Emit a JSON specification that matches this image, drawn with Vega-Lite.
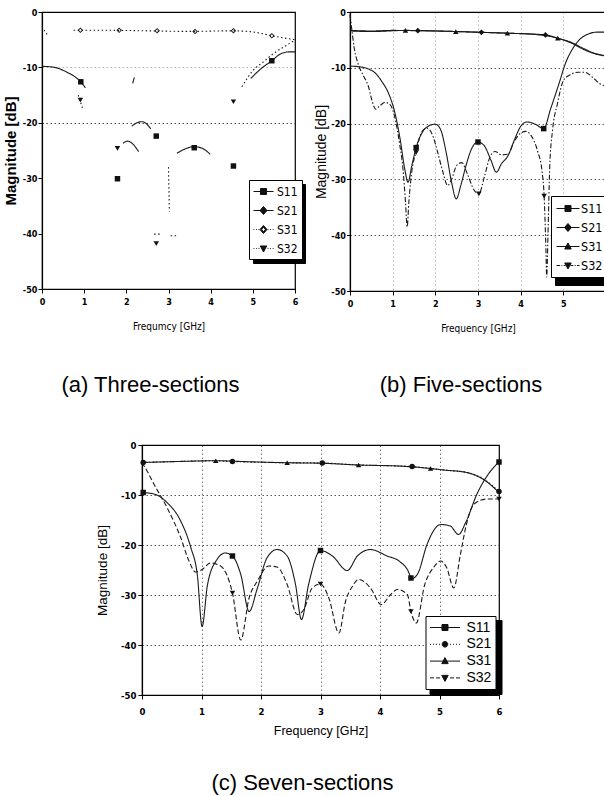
{
"$schema": "https://vega.github.io/schema/vega-lite/v6.json",
"padding": {"left": 2, "top": 7, "right": 0, "bottom": 0},
"background": "#ffffff",
"datasets": {
"lines": [
{"p":"a","s":"S11","g":1,"f":0,"d":-9.8},{"p":"a","s":"S11","g":1,"f":0.3,"d":-10},{"p":"a","s":"S11","g":1,"f":0.6,"d":-10.9},{"p":"a","s":"S11","g":1,"f":0.8,"d":-11.8},{"p":"a","s":"S11","g":1,"f":0.92,"d":-12.6},{"p":"a","s":"S11","g":1,"f":1.03,"d":-13.7},
{"p":"a","s":"S11","g":2,"f":2.13,"d":-20.6},{"p":"a","s":"S11","g":2,"f":2.25,"d":-20},{"p":"a","s":"S11","g":2,"f":2.37,"d":-19.8},{"p":"a","s":"S11","g":2,"f":2.48,"d":-20.2},{"p":"a","s":"S11","g":2,"f":2.58,"d":-21.1},
{"p":"a","s":"S11","g":3,"f":3.2,"d":-25.5},{"p":"a","s":"S11","g":3,"f":3.4,"d":-24.7},{"p":"a","s":"S11","g":3,"f":3.6,"d":-24.3},{"p":"a","s":"S11","g":3,"f":3.8,"d":-24.6},{"p":"a","s":"S11","g":3,"f":3.99,"d":-25.7},
{"p":"a","s":"S11","g":4,"f":4.95,"d":-12},{"p":"a","s":"S11","g":4,"f":5.2,"d":-10.2},{"p":"a","s":"S11","g":4,"f":5.45,"d":-8.8},{"p":"a","s":"S11","g":4,"f":5.65,"d":-7.6},{"p":"a","s":"S11","g":4,"f":5.85,"d":-7.2},{"p":"a","s":"S11","g":4,"f":6,"d":-7.2},
{"p":"a","s":"S21","g":1,"f":1.92,"d":-23.7},{"p":"a","s":"S21","g":1,"f":2.03,"d":-23.3},{"p":"a","s":"S21","g":1,"f":2.15,"d":-23.8},{"p":"a","s":"S21","g":1,"f":2.29,"d":-25.2},
{"p":"a","s":"S21","g":2,"f":2.15,"d":-12.9},{"p":"a","s":"S21","g":2,"f":2.19,"d":-11.8},
{"p":"a","s":"S31","g":1,"f":0,"d":-2.6},{"p":"a","s":"S31","g":1,"f":0.08,"d":-3.6},{"p":"a","s":"S31","g":1,"f":0.16,"d":-4.4},
{"p":"a","s":"S31","g":2,"f":0.75,"d":-3.3},{"p":"a","s":"S31","g":2,"f":1.5,"d":-3.3},{"p":"a","s":"S31","g":2,"f":2.5,"d":-3.4},{"p":"a","s":"S31","g":2,"f":3.5,"d":-3.5},{"p":"a","s":"S31","g":2,"f":4.5,"d":-3.4},{"p":"a","s":"S31","g":2,"f":5,"d":-3.6},{"p":"a","s":"S31","g":2,"f":5.45,"d":-4.3},{"p":"a","s":"S31","g":2,"f":6,"d":-5},
{"p":"a","s":"S32","g":1,"f":0.86,"d":-15},{"p":"a","s":"S32","g":1,"f":0.97,"d":-17.6},
{"p":"a","s":"S32","g":2,"f":4.74,"d":-13.5},{"p":"a","s":"S32","g":2,"f":5.01,"d":-10.5},{"p":"a","s":"S32","g":2,"f":5.25,"d":-9},{"p":"a","s":"S32","g":2,"f":5.49,"d":-7.5},{"p":"a","s":"S32","g":2,"f":5.8,"d":-6},{"p":"a","s":"S32","g":2,"f":6,"d":-5.1},
{"p":"a","s":"S32","g":3,"f":3,"d":-28},{"p":"a","s":"S32","g":3,"f":3.01,"d":-32},{"p":"a","s":"S32","g":3,"f":3.02,"d":-36},
{"p":"a","s":"S32","g":4,"f":2.66,"d":-40.1},{"p":"a","s":"S32","g":4,"f":2.8,"d":-40.1},
{"p":"a","s":"S32","g":5,"f":3.05,"d":-40.4},{"p":"a","s":"S32","g":5,"f":3.2,"d":-40.4},

{"p":"b","s":"S11","f":0,"d":-9.7},{"p":"b","s":"S11","f":0.2,"d":-9.8},{"p":"b","s":"S11","f":0.43,"d":-10.2},{"p":"b","s":"S11","f":0.6,"d":-11},{"p":"b","s":"S11","f":0.75,"d":-12.5},{"p":"b","s":"S11","f":0.9,"d":-14.5},{"p":"b","s":"S11","f":1.05,"d":-18},{"p":"b","s":"S11","f":1.18,"d":-23},{"p":"b","s":"S11","f":1.28,"d":-28},{"p":"b","s":"S11","f":1.36,"d":-30.5},{"p":"b","s":"S11","f":1.45,"d":-27.5},{"p":"b","s":"S11","f":1.55,"d":-24.3},{"p":"b","s":"S11","f":1.7,"d":-21.5},{"p":"b","s":"S11","f":1.85,"d":-20.4},{"p":"b","s":"S11","f":2,"d":-20.1},{"p":"b","s":"S11","f":2.12,"d":-21},{"p":"b","s":"S11","f":2.25,"d":-25},{"p":"b","s":"S11","f":2.38,"d":-30.5},{"p":"b","s":"S11","f":2.49,"d":-33.5},{"p":"b","s":"S11","f":2.6,"d":-31},{"p":"b","s":"S11","f":2.72,"d":-27.5},{"p":"b","s":"S11","f":2.85,"d":-24.5},{"p":"b","s":"S11","f":3,"d":-23.3},{"p":"b","s":"S11","f":3.15,"d":-24},{"p":"b","s":"S11","f":3.3,"d":-26.5},{"p":"b","s":"S11","f":3.43,"d":-28.7},{"p":"b","s":"S11","f":3.55,"d":-27.2},{"p":"b","s":"S11","f":3.7,"d":-25.8},{"p":"b","s":"S11","f":3.85,"d":-23},{"p":"b","s":"S11","f":4,"d":-20.5},{"p":"b","s":"S11","f":4.15,"d":-19.7},{"p":"b","s":"S11","f":4.34,"d":-20.1},{"p":"b","s":"S11","f":4.54,"d":-20.9},{"p":"b","s":"S11","f":4.7,"d":-17.4},{"p":"b","s":"S11","f":4.9,"d":-12.8},{"p":"b","s":"S11","f":5.05,"d":-9.2},{"p":"b","s":"S11","f":5.25,"d":-6.2},{"p":"b","s":"S11","f":5.49,"d":-4.3},{"p":"b","s":"S11","f":5.8,"d":-3.6},{"p":"b","s":"S11","f":6,"d":-3.6},
{"p":"b","s":"S21","f":0,"d":-3.3},{"p":"b","s":"S21","f":0.5,"d":-3.4},{"p":"b","s":"S21","f":1,"d":-3.3},{"p":"b","s":"S21","f":1.59,"d":-3.35},{"p":"b","s":"S21","f":2.5,"d":-3.5},{"p":"b","s":"S21","f":3.08,"d":-3.65},{"p":"b","s":"S21","f":3.7,"d":-3.8},{"p":"b","s":"S21","f":4.58,"d":-4.1},{"p":"b","s":"S21","f":4.87,"d":-4.7},{"p":"b","s":"S21","f":5.17,"d":-5.4},{"p":"b","s":"S21","f":5.49,"d":-6.6},{"p":"b","s":"S21","f":5.77,"d":-7.5},{"p":"b","s":"S21","f":6,"d":-7.8},
{"p":"b","s":"S31","f":0,"d":-3.4},{"p":"b","s":"S31","f":0.5,"d":-3.5},{"p":"b","s":"S31","f":1.3,"d":-3.3},{"p":"b","s":"S31","f":2.48,"d":-3.5},{"p":"b","s":"S31","f":3.69,"d":-3.8},{"p":"b","s":"S31","f":4.3,"d":-4},{"p":"b","s":"S31","f":4.87,"d":-4.7},{"p":"b","s":"S31","f":5.2,"d":-5.6},{"p":"b","s":"S31","f":5.5,"d":-6.8},{"p":"b","s":"S31","f":5.8,"d":-7.6},{"p":"b","s":"S31","f":6,"d":-7.9},
{"p":"b","s":"S32","f":0,"d":-0.5},{"p":"b","s":"S32","f":0.04,"d":-3},{"p":"b","s":"S32","f":0.1,"d":-6.5},{"p":"b","s":"S32","f":0.2,"d":-9.5},{"p":"b","s":"S32","f":0.32,"d":-11.5},{"p":"b","s":"S32","f":0.43,"d":-13.3},{"p":"b","s":"S32","f":0.52,"d":-16},{"p":"b","s":"S32","f":0.6,"d":-17.4},{"p":"b","s":"S32","f":0.7,"d":-16.8},{"p":"b","s":"S32","f":0.82,"d":-16.2},{"p":"b","s":"S32","f":0.94,"d":-16.6},{"p":"b","s":"S32","f":1.06,"d":-19.2},{"p":"b","s":"S32","f":1.16,"d":-23.5},{"p":"b","s":"S32","f":1.24,"d":-28},{"p":"b","s":"S32","f":1.3,"d":-34},{"p":"b","s":"S32","f":1.34,"d":-38.5},{"p":"b","s":"S32","f":1.38,"d":-34},{"p":"b","s":"S32","f":1.45,"d":-28.5},{"p":"b","s":"S32","f":1.55,"d":-25},{"p":"b","s":"S32","f":1.68,"d":-21.5},{"p":"b","s":"S32","f":1.8,"d":-20.8},{"p":"b","s":"S32","f":1.92,"d":-21.8},{"p":"b","s":"S32","f":2.05,"d":-25},{"p":"b","s":"S32","f":2.17,"d":-28.5},{"p":"b","s":"S32","f":2.29,"d":-31.1},{"p":"b","s":"S32","f":2.38,"d":-30},{"p":"b","s":"S32","f":2.5,"d":-27.5},{"p":"b","s":"S32","f":2.62,"d":-27},{"p":"b","s":"S32","f":2.75,"d":-29},{"p":"b","s":"S32","f":2.9,"d":-31.8},{"p":"b","s":"S32","f":3.02,"d":-32.6},{"p":"b","s":"S32","f":3.15,"d":-29.5},{"p":"b","s":"S32","f":3.28,"d":-26},{"p":"b","s":"S32","f":3.4,"d":-25},{"p":"b","s":"S32","f":3.55,"d":-25.6},{"p":"b","s":"S32","f":3.7,"d":-25.5},{"p":"b","s":"S32","f":3.85,"d":-23.2},{"p":"b","s":"S32","f":4,"d":-21.7},{"p":"b","s":"S32","f":4.12,"d":-21.4},{"p":"b","s":"S32","f":4.28,"d":-22.6},{"p":"b","s":"S32","f":4.4,"d":-25},{"p":"b","s":"S32","f":4.5,"d":-28.5},{"p":"b","s":"S32","f":4.55,"d":-33},{"p":"b","s":"S32","f":4.59,"d":-42},{"p":"b","s":"S32","f":4.61,"d":-47.5},{"p":"b","s":"S32","f":4.64,"d":-40},{"p":"b","s":"S32","f":4.68,"d":-28},{"p":"b","s":"S32","f":4.75,"d":-21},{"p":"b","s":"S32","f":4.86,"d":-16.5},{"p":"b","s":"S32","f":5,"d":-12.3},{"p":"b","s":"S32","f":5.15,"d":-11.3},{"p":"b","s":"S32","f":5.35,"d":-10.8},{"p":"b","s":"S32","f":5.5,"d":-10.8},{"p":"b","s":"S32","f":5.7,"d":-11.8},{"p":"b","s":"S32","f":5.85,"d":-12.8},{"p":"b","s":"S32","f":6,"d":-13.3},

{"p":"c","s":"S11","f":0,"d":-9.5},{"p":"c","s":"S11","f":0.2,"d":-9.8},{"p":"c","s":"S11","f":0.42,"d":-11.5},{"p":"c","s":"S11","f":0.65,"d":-15.2},{"p":"c","s":"S11","f":0.82,"d":-20.5},{"p":"c","s":"S11","f":0.93,"d":-26},{"p":"c","s":"S11","f":1.01,"d":-36.3},{"p":"c","s":"S11","f":1.1,"d":-28},{"p":"c","s":"S11","f":1.26,"d":-22.9},{"p":"c","s":"S11","f":1.4,"d":-21.6},{"p":"c","s":"S11","f":1.52,"d":-22.2},{"p":"c","s":"S11","f":1.66,"d":-25.9},{"p":"c","s":"S11","f":1.8,"d":-33.3},{"p":"c","s":"S11","f":1.94,"d":-28.6},{"p":"c","s":"S11","f":2.1,"d":-22.6},{"p":"c","s":"S11","f":2.27,"d":-20.9},{"p":"c","s":"S11","f":2.44,"d":-22.2},{"p":"c","s":"S11","f":2.58,"d":-27.9},{"p":"c","s":"S11","f":2.68,"d":-34.9},{"p":"c","s":"S11","f":2.8,"d":-27.9},{"p":"c","s":"S11","f":3,"d":-21.1},{"p":"c","s":"S11","f":3.2,"d":-22.2},{"p":"c","s":"S11","f":3.45,"d":-25.1},{"p":"c","s":"S11","f":3.62,"d":-22.2},{"p":"c","s":"S11","f":3.84,"d":-20.9},{"p":"c","s":"S11","f":4.12,"d":-22.2},{"p":"c","s":"S11","f":4.32,"d":-23.2},{"p":"c","s":"S11","f":4.46,"d":-24.9},{"p":"c","s":"S11","f":4.54,"d":-26.7},{"p":"c","s":"S11","f":4.64,"d":-25.6},{"p":"c","s":"S11","f":4.79,"d":-19.9},{"p":"c","s":"S11","f":5.02,"d":-15.9},{"p":"c","s":"S11","f":5.18,"d":-16.2},{"p":"c","s":"S11","f":5.32,"d":-17.9},{"p":"c","s":"S11","f":5.44,"d":-15.5},{"p":"c","s":"S11","f":5.63,"d":-9.8},{"p":"c","s":"S11","f":5.86,"d":-5.2},{"p":"c","s":"S11","f":6,"d":-3.4},
{"p":"c","s":"S21","f":0,"d":-3.5},{"p":"c","s":"S21","f":0.6,"d":-3.3},{"p":"c","s":"S21","f":1.24,"d":-3.15},{"p":"c","s":"S21","f":1.52,"d":-3.3},{"p":"c","s":"S21","f":2.44,"d":-3.55},{"p":"c","s":"S21","f":3.03,"d":-3.6},{"p":"c","s":"S21","f":3.64,"d":-4},{"p":"c","s":"S21","f":4.54,"d":-4.3},{"p":"c","s":"S21","f":4.85,"d":-4.7},{"p":"c","s":"S21","f":5.07,"d":-5},{"p":"c","s":"S21","f":5.46,"d":-5.5},{"p":"c","s":"S21","f":5.74,"d":-6.8},{"p":"c","s":"S21","f":6,"d":-9.3},
{"p":"c","s":"S31","f":0,"d":-3.5},{"p":"c","s":"S31","f":0.6,"d":-3.3},{"p":"c","s":"S31","f":1.24,"d":-3.15},{"p":"c","s":"S31","f":1.8,"d":-3.35},{"p":"c","s":"S31","f":2.44,"d":-3.55},{"p":"c","s":"S31","f":3.03,"d":-3.65},{"p":"c","s":"S31","f":3.64,"d":-4},{"p":"c","s":"S31","f":4.3,"d":-4.2},{"p":"c","s":"S31","f":4.85,"d":-4.7},{"p":"c","s":"S31","f":5.07,"d":-5},{"p":"c","s":"S31","f":5.46,"d":-5.5},{"p":"c","s":"S31","f":5.74,"d":-6.9},{"p":"c","s":"S31","f":6,"d":-9.5},
{"p":"c","s":"S32","f":0,"d":-3.5},{"p":"c","s":"S32","f":0.1,"d":-5.5},{"p":"c","s":"S32","f":0.2,"d":-7.8},{"p":"c","s":"S32","f":0.42,"d":-12.5},{"p":"c","s":"S32","f":0.65,"d":-18.5},{"p":"c","s":"S32","f":0.79,"d":-23.2},{"p":"c","s":"S32","f":0.9,"d":-25.4},{"p":"c","s":"S32","f":1.01,"d":-24.9},{"p":"c","s":"S32","f":1.15,"d":-23.6},{"p":"c","s":"S32","f":1.32,"d":-24.2},{"p":"c","s":"S32","f":1.52,"d":-29.6},{"p":"c","s":"S32","f":1.66,"d":-39},{"p":"c","s":"S32","f":1.8,"d":-30.6},{"p":"c","s":"S32","f":1.94,"d":-27.2},{"p":"c","s":"S32","f":2.13,"d":-24.2},{"p":"c","s":"S32","f":2.27,"d":-24.4},{"p":"c","s":"S32","f":2.44,"d":-27.9},{"p":"c","s":"S32","f":2.61,"d":-33.9},{"p":"c","s":"S32","f":2.72,"d":-32.9},{"p":"c","s":"S32","f":2.86,"d":-28.6},{"p":"c","s":"S32","f":3,"d":-27.8},{"p":"c","s":"S32","f":3.14,"d":-30.6},{"p":"c","s":"S32","f":3.31,"d":-37.6},{"p":"c","s":"S32","f":3.42,"d":-31.3},{"p":"c","s":"S32","f":3.54,"d":-28.2},{"p":"c","s":"S32","f":3.64,"d":-26.9},{"p":"c","s":"S32","f":3.84,"d":-28.6},{"p":"c","s":"S32","f":4.02,"d":-31.9},{"p":"c","s":"S32","f":4.18,"d":-29.9},{"p":"c","s":"S32","f":4.29,"d":-28.9},{"p":"c","s":"S32","f":4.46,"d":-29.9},{"p":"c","s":"S32","f":4.52,"d":-33.3},{"p":"c","s":"S32","f":4.61,"d":-35.6},{"p":"c","s":"S32","f":4.75,"d":-28},{"p":"c","s":"S32","f":4.9,"d":-24.5},{"p":"c","s":"S32","f":5.02,"d":-23.2},{"p":"c","s":"S32","f":5.12,"d":-24.5},{"p":"c","s":"S32","f":5.24,"d":-28.6},{"p":"c","s":"S32","f":5.35,"d":-22},{"p":"c","s":"S32","f":5.45,"d":-16},{"p":"c","s":"S32","f":5.58,"d":-11.8},{"p":"c","s":"S32","f":5.8,"d":-10.8},{"p":"c","s":"S32","f":6,"d":-10.8}
],
"marks": [
{"p":"a","s":"S11","f":0.92,"d":-12.6},{"p":"a","s":"S11","f":1.79,"d":-30.1},{"p":"a","s":"S11","f":2.71,"d":-22.4},{"p":"a","s":"S11","f":3.61,"d":-24.5},{"p":"a","s":"S11","f":4.54,"d":-27.8},{"p":"a","s":"S11","f":5.45,"d":-8.8},
{"p":"a","s":"S31","f":0.91,"d":-3.3},{"p":"a","s":"S31","f":1.83,"d":-3.3},{"p":"a","s":"S31","f":2.73,"d":-3.4},{"p":"a","s":"S31","f":3.63,"d":-3.5},{"p":"a","s":"S31","f":4.54,"d":-3.4},{"p":"a","s":"S31","f":5.45,"d":-4.3},
{"p":"a","s":"S32","f":0.91,"d":-15.9},{"p":"a","s":"S32","f":1.79,"d":-24.6},{"p":"a","s":"S32","f":2.71,"d":-41.8},{"p":"a","s":"S32","f":4.54,"d":-16.2},
{"p":"b","s":"S11","f":1.55,"d":-24.3},{"p":"b","s":"S11","f":3,"d":-23.3},{"p":"b","s":"S11","f":4.54,"d":-20.9},
{"p":"b","s":"S21","f":1.59,"d":-3.35},{"p":"b","s":"S21","f":3.08,"d":-3.65},{"p":"b","s":"S21","f":4.58,"d":-4.1},
{"p":"b","s":"S31","f":1.3,"d":-3.3},{"p":"b","s":"S31","f":2.48,"d":-3.5},{"p":"b","s":"S31","f":3.69,"d":-3.8},{"p":"b","s":"S31","f":4.87,"d":-4.7},
{"p":"b","s":"S32","f":1.55,"d":-25.2},{"p":"b","s":"S32","f":3.02,"d":-32.6},{"p":"b","s":"S32","f":4.55,"d":-33},
{"p":"c","s":"S11","f":0.02,"d":-9.5},{"p":"c","s":"S11","f":1.52,"d":-22.2},{"p":"c","s":"S11","f":3,"d":-21.1},{"p":"c","s":"S11","f":4.52,"d":-26.6},{"p":"c","s":"S11","f":6,"d":-3.4},
{"p":"c","s":"S21","f":0.02,"d":-3.5},{"p":"c","s":"S21","f":1.52,"d":-3.3},{"p":"c","s":"S21","f":3.03,"d":-3.6},{"p":"c","s":"S21","f":4.54,"d":-4.3},{"p":"c","s":"S21","f":6,"d":-9.3},
{"p":"c","s":"S31","f":1.24,"d":-3.15},{"p":"c","s":"S31","f":2.44,"d":-3.55},{"p":"c","s":"S31","f":3.64,"d":-4},{"p":"c","s":"S31","f":4.85,"d":-4.7},
{"p":"c","s":"S32","f":1.52,"d":-29.6},{"p":"c","s":"S32","f":3,"d":-27.8},{"p":"c","s":"S32","f":4.52,"d":-33.3},{"p":"c","s":"S32","f":6,"d":-10.8}
]
},
"vconcat": [
{
"hconcat": [
{
"width": 253, "height": 277,
"title": {"text": "(a)  Three-sections", "orient": "bottom", "anchor": "middle", "frame": "group", "dx": -18, "offset": 44, "font": "Liberation Sans", "fontSize": 22, "fontWeight": "normal", "color": "#000"},
"layer": [
{"data": {"name": "lines"}, "transform": [{"filter": "datum.p === 'a'"}],
"mark": {"type": "line", "interpolate": "monotone", "strokeWidth": 1.1, "color": "#1a1a1a"},
"encoding": {
"x": {"field": "f", "type": "quantitative", "scale": {"domain": [0, 6], "nice": false, "zero": false},
"axis": {"values": [0,0.5,1,1.5,2,2.5,3,3.5,4,4.5,5,5.5,6], "labelExpr": "datum.value % 1 == 0 ? toString(datum.value) : ''", "tickSize": {"condition": {"test": "datum.value % 1 == 0", "value": 4}, "value": 2.5}, "grid": false, "labelPadding": 4, "title": "Frequmcy [GHz]", "titleFont": "Liberation Sans Narrow, DejaVu Sans Condensed, Liberation Sans, sans-serif", "titleFontSize": 10, "titlePadding": 15}},
"y": {"field": "d", "type": "quantitative", "scale": {"domain": [-50, 0], "nice": false, "zero": false},
"axis": {"values": [0,-5,-10,-15,-20,-25,-30,-35,-40,-45,-50], "labelExpr": "datum.value % 10 == 0 ? toString(datum.value) : ''", "tickSize": {"condition": {"test": "datum.value % 10 == 0", "value": 4}, "value": 2.5}, "grid": true, "gridOpacity": {"condition": [{"test": "datum.value == -20", "value": 0.9}, {"test": "datum.value == -10", "value": 0.4}], "value": 0}, "labelPadding": 1, "title": "Magnitude [dB]", "titleFont": "Liberation Sans", "titleFontWeight": "bold", "titleFontSize": 15, "titlePadding": 4}},
"detail": {"field": "g"},
"strokeDash": {"field": "s", "type": "nominal", "scale": {"domain": ["S32","S31","S21","S11"], "range": [[1.5,2.5],[1.5,2.5],[1,0],[1,0]]},
"legend": {"orient": "none", "legendX": 211, "legendY": 172, "title": null, "padding": 4, "fillColor": "#000", "strokeColor": "#000", "symbolSize": 196, "symbolStrokeColor": "#000", "labelColor": "#000", "labelExpr": "''", "labelOffset": 28, "labelFont": "Liberation Sans Narrow, DejaVu Sans Condensed, Liberation Sans, sans-serif", "labelFontSize": 12, "rowPadding": 5, "zindex": 1}}
}},
{"data": {"name": "marks"}, "transform": [{"filter": "datum.p === 'a' && datum.s === 'S11'"}],
"mark": {"type": "point", "shape": "square", "filled": true, "size": 30, "color": "#111", "opacity": 1},
"encoding": {"x": {"field": "f", "type": "quantitative"}, "y": {"field": "d", "type": "quantitative"}}},
{"data": {"name": "marks"}, "transform": [{"filter": "datum.p === 'a' && datum.s === 'S31'"}],
"mark": {"type": "point", "shape": "M0,-1L1,0L0,1L-1,0ZM0,-0.55L-0.55,0L0,0.55L0.55,0Z", "filled": true, "size": 30, "color": "#111", "opacity": 1},
"encoding": {"x": {"field": "f", "type": "quantitative"}, "y": {"field": "d", "type": "quantitative"}}},
{"data": {"name": "marks"}, "transform": [{"filter": "datum.p === 'a' && datum.s === 'S32'"}],
"mark": {"type": "point", "shape": "triangle-down", "filled": true, "size": 30, "color": "#111", "opacity": 1},
"encoding": {"x": {"field": "f", "type": "quantitative"}, "y": {"field": "d", "type": "quantitative"}}},
{"data": {"name": "marks"}, "transform": [{"filter": "false"}],
"mark": {"type": "point", "filled": false, "fill": "#111", "stroke": "#111", "strokeWidth": 1},
"encoding": {"shape": {"field": "s", "type": "nominal", "scale": {"domain": ["S11","S21","S31","S32"], "range": [
"M-1,0H1.86M0,-0.43H0.86V0.43H0Z",
"M-1,0H1.86M0.43,-0.57L0.93,0L0.43,0.57L-0.07,0Z",
"M-1,0H-0.88M-0.64,0H-0.52M-0.28,0H-0.16M1.02,0H1.14M1.38,0H1.5M1.74,0H1.86M0.43,-0.57L0.93,0L0.43,0.57L-0.07,0ZM0.43,-0.3L0.16,0L0.43,0.3L0.7,0Z",
"M-1,0H-0.88M-0.64,0H-0.52M-0.28,0H-0.16M1.02,0H1.14M1.38,0H1.5M1.74,0H1.86M-0.03,-0.36L0.89,-0.36L0.43,0.5Z"]},
"legend": {"orient": "none", "legendX": 207, "legendY": 168, "title": null, "padding": 4, "fillColor": "#fff", "strokeColor": "#000", "symbolSize": 196, "symbolStrokeWidth": 1, "symbolOpacity": 1, "labelColor": "#000", "labelOffset": 9, "labelFont": "Liberation Sans Narrow, DejaVu Sans Condensed, Liberation Sans, sans-serif", "labelFontSize": 12, "rowPadding": 5, "zindex": 2}}}}
]
},
{
"width": 256, "height": 279,
"title": {"text": "(b)  Five-sections", "orient": "bottom", "anchor": "middle", "frame": "group", "dx": -17, "offset": 42, "font": "Liberation Sans", "fontSize": 22, "fontWeight": "normal", "color": "#000"},
"layer": [
{"data": {"name": "lines"}, "transform": [{"filter": "datum.p === 'b'"}],
"mark": {"type": "line", "interpolate": "monotone", "strokeWidth": 1.1, "color": "#1a1a1a"},
"encoding": {
"x": {"field": "f", "type": "quantitative", "scale": {"domain": [0, 6], "nice": false, "zero": false},
"axis": {"values": [0,0.5,1,1.5,2,2.5,3,3.5,4,4.5,5,5.5,6], "labelExpr": "datum.value % 1 == 0 ? toString(datum.value) : ''", "tickSize": {"condition": {"test": "datum.value % 1 == 0", "value": 4}, "value": 2.5}, "grid": true, "gridOpacity": {"condition": {"test": "datum.value % 1 == 0 && datum.value > 0 && datum.value < 6", "value": 0.35}, "value": 0}, "labelPadding": 4, "title": "Frequency [GHz]", "titleFont": "Liberation Sans Narrow, DejaVu Sans Condensed, Liberation Sans, sans-serif", "titleFontSize": 10, "titlePadding": 15}},
"y": {"field": "d", "type": "quantitative", "scale": {"domain": [-50, 0], "nice": false, "zero": false},
"axis": {"values": [0,-2.5,-5,-7.5,-10,-12.5,-15,-17.5,-20,-22.5,-25,-27.5,-30,-32.5,-35,-37.5,-40,-42.5,-45,-47.5,-50], "labelExpr": "datum.value % 5 == 0 ? toString(datum.value) : ''", "tickSize": {"condition": {"test": "datum.value % 5 == 0", "value": 3.5}, "value": 2}, "grid": true, "gridOpacity": {"condition": {"test": "datum.value % 5 == 0 && datum.value < 0 && datum.value > -50", "value": 0.8}, "value": 0}, "labelPadding": 1, "title": "Magnitude [dB]", "titleFont": "Liberation Sans", "titleFontSize": 14, "titlePadding": 2}},
"detail": {"field": "g"},
"strokeDash": {"field": "s", "type": "nominal", "scale": {"domain": ["S32","S31","S21","S11"], "range": [[5,2,1.5,2],[1,0],[1,0],[1,0]]},
"legend": {"orient": "none", "legendX": 205, "legendY": 188, "title": null, "padding": 5, "fillColor": "#000", "strokeColor": "#000", "symbolSize": 196, "symbolStrokeColor": "#000", "labelColor": "#000", "labelExpr": "''", "labelOffset": 30, "labelFont": "Liberation Sans Narrow, DejaVu Sans Condensed, Liberation Sans, sans-serif", "labelFontSize": 12.5, "rowPadding": 5, "zindex": 1}}
}},
{"data": {"name": "marks"}, "transform": [{"filter": "datum.p === 'b' && datum.s === 'S11'"}],
"mark": {"type": "point", "shape": "square", "filled": true, "size": 30, "color": "#111", "opacity": 1},
"encoding": {"x": {"field": "f", "type": "quantitative"}, "y": {"field": "d", "type": "quantitative"}}},
{"data": {"name": "marks"}, "transform": [{"filter": "datum.p === 'b' && datum.s === 'S21'"}],
"mark": {"type": "point", "shape": "diamond", "filled": true, "size": 34, "color": "#111", "opacity": 1},
"encoding": {"x": {"field": "f", "type": "quantitative"}, "y": {"field": "d", "type": "quantitative"}}},
{"data": {"name": "marks"}, "transform": [{"filter": "datum.p === 'b' && datum.s === 'S31'"}],
"mark": {"type": "point", "shape": "triangle-up", "filled": true, "size": 30, "color": "#111", "opacity": 1},
"encoding": {"x": {"field": "f", "type": "quantitative"}, "y": {"field": "d", "type": "quantitative"}}},
{"data": {"name": "marks"}, "transform": [{"filter": "datum.p === 'b' && datum.s === 'S32'"}],
"mark": {"type": "point", "shape": "triangle-down", "filled": true, "size": 30, "color": "#111", "opacity": 1},
"encoding": {"x": {"field": "f", "type": "quantitative"}, "y": {"field": "d", "type": "quantitative"}}},
{"data": {"name": "marks"}, "transform": [{"filter": "false"}],
"mark": {"type": "point", "filled": false, "fill": "#111", "stroke": "#111", "strokeWidth": 1},
"encoding": {"shape": {"field": "s", "type": "nominal", "scale": {"domain": ["S11","S21","S31","S32"], "range": [
"M-1,0H2.29M0.21,-0.43H1.07V0.43H0.21Z",
"M-1,0H2.29M0.64,-0.57L1.14,0L0.64,0.57L0.14,0Z",
"M-1,0H2.29M0.64,-0.5L1.1,0.36L0.18,0.36Z",
"M-1,0H-0.5M-0.3,0H-0.16M0.04,0H0.29M1,0H1.4M1.6,0H1.74M1.94,0H2.29M0.18,-0.36L1.1,-0.36L0.64,0.5Z"]},
"legend": {"orient": "none", "legendX": 201, "legendY": 184, "title": null, "padding": 5, "fillColor": "#fff", "strokeColor": "#000", "symbolSize": 196, "symbolStrokeWidth": 1, "symbolOpacity": 1, "labelColor": "#000", "labelOffset": 10, "labelFont": "Liberation Sans Narrow, DejaVu Sans Condensed, Liberation Sans, sans-serif", "labelFontSize": 12.5, "rowPadding": 5, "zindex": 2}}}}
]
}
],
"spacing": 55, "bounds": "flush",
"resolve": {"scale": {"shape": "independent", "strokeDash": "independent"}}
},
{
"hconcat": [
{"width": 99.5, "height": 20, "data": {"values": []}, "mark": {"type": "point"}, "view": {"stroke": null}},
{
"width": 357, "height": 250,
"title": {"text": "(c)  Seven-sections", "orient": "bottom", "anchor": "middle", "frame": "group", "dx": -18, "offset": 36, "font": "Liberation Sans", "fontSize": 22, "fontWeight": "normal", "color": "#000"},
"layer": [
{"data": {"name": "lines"}, "transform": [{"filter": "datum.p === 'c'"}],
"mark": {"type": "line", "interpolate": "monotone", "strokeWidth": 1.1, "color": "#1a1a1a"},
"encoding": {
"x": {"field": "f", "type": "quantitative", "scale": {"domain": [0, 6], "nice": false, "zero": false},
"axis": {"values": [0,0.5,1,1.5,2,2.5,3,3.5,4,4.5,5,5.5,6], "labelExpr": "datum.value % 1 == 0 ? toString(datum.value) : ''", "tickSize": {"condition": {"test": "datum.value % 1 == 0", "value": 4}, "value": 2.5}, "grid": true, "gridOpacity": {"condition": {"test": "datum.value % 1 == 0 && datum.value > 0 && datum.value < 6", "value": 0.7}, "value": 0}, "labelPadding": 7, "labelFontSize": 9.5, "title": "Frequency [GHz]", "titleFont": "Liberation Sans", "titleFontSize": 12.5, "titlePadding": 9}},
"y": {"field": "d", "type": "quantitative", "scale": {"domain": [-50, 0], "nice": false, "zero": false},
"axis": {"values": [0,-2.5,-5,-7.5,-10,-12.5,-15,-17.5,-20,-22.5,-25,-27.5,-30,-32.5,-35,-37.5,-40,-42.5,-45,-47.5,-50], "labelExpr": "datum.value % 5 == 0 ? toString(datum.value) : ''", "tickSize": {"condition": {"test": "datum.value % 5 == 0", "value": 4}, "value": 2}, "grid": true, "gridOpacity": {"condition": {"test": "datum.value % 5 == 0 && datum.value < 0 && datum.value > -50", "value": 0.85}, "value": 0}, "labelPadding": 2, "labelFontSize": 9.5, "title": "Magnitude [dB]", "titleFont": "Liberation Sans", "titleFontSize": 13.5, "titlePadding": 11}},
"detail": {"field": "g"},
"strokeDash": {"field": "s", "type": "nominal", "scale": {"domain": ["S32","S31","S21","S11"], "range": [[5,2.5],[1,0],[1.5,2],[1,0]]},
"legend": {"orient": "none", "legendX": 287.5, "legendY": 175, "title": null, "padding": 4, "fillColor": "#000", "strokeColor": "#000", "symbolSize": 196, "symbolStrokeColor": "#000", "labelColor": "#000", "labelExpr": "''", "labelOffset": 48, "labelFont": "Liberation Sans", "labelFontSize": 14, "rowPadding": 1.8, "zindex": 1}}
}},
{"data": {"name": "marks"}, "transform": [{"filter": "datum.p === 'c' && datum.s === 'S11'"}],
"mark": {"type": "point", "shape": "square", "filled": true, "size": 30, "color": "#111", "opacity": 1},
"encoding": {"x": {"field": "f", "type": "quantitative"}, "y": {"field": "d", "type": "quantitative"}}},
{"data": {"name": "marks"}, "transform": [{"filter": "datum.p === 'c' && datum.s === 'S21'"}],
"mark": {"type": "point", "shape": "circle", "filled": true, "size": 30, "color": "#111", "opacity": 1},
"encoding": {"x": {"field": "f", "type": "quantitative"}, "y": {"field": "d", "type": "quantitative"}}},
{"data": {"name": "marks"}, "transform": [{"filter": "datum.p === 'c' && datum.s === 'S31'"}],
"mark": {"type": "point", "shape": "triangle-up", "filled": true, "size": 30, "color": "#111", "opacity": 1},
"encoding": {"x": {"field": "f", "type": "quantitative"}, "y": {"field": "d", "type": "quantitative"}}},
{"data": {"name": "marks"}, "transform": [{"filter": "datum.p === 'c' && datum.s === 'S32'"}],
"mark": {"type": "point", "shape": "triangle-down", "filled": true, "size": 30, "color": "#111", "opacity": 1},
"encoding": {"x": {"field": "f", "type": "quantitative"}, "y": {"field": "d", "type": "quantitative"}}},
{"data": {"name": "marks"}, "transform": [{"filter": "false"}],
"mark": {"type": "point", "filled": false, "fill": "#111", "stroke": "#111", "strokeWidth": 1},
"encoding": {"shape": {"field": "s", "type": "nominal", "scale": {"domain": ["S11","S21","S31","S32"], "range": [
"M-1,0H3.29M0.71,-0.43H1.57V0.43H0.71Z",
"M-1,0H-0.86M-0.57,0H-0.43M-0.14,0H0M0.29,0H0.43M1.86,0H2M2.29,0H2.43M2.71,0H2.86M3.14,0H3.29M0.74,0A0.4,0.4,0,1,0,1.54,0A0.4,0.4,0,1,0,0.74,0Z",
"M-1,0H3.29M1.14,-0.5L1.6,0.36L0.68,0.36Z",
"M-1,0H-0.43M-0.14,0H0.43M1.86,0H2.43M2.71,0H3.29M0.68,-0.36L1.6,-0.36L1.14,0.5Z"]},
"legend": {"orient": "none", "legendX": 283.5, "legendY": 171, "title": null, "padding": 4, "fillColor": "#fff", "strokeColor": "#000", "symbolSize": 196, "symbolStrokeWidth": 1, "symbolOpacity": 1, "labelColor": "#000", "labelOffset": 22, "labelFont": "Liberation Sans", "labelFontSize": 14, "rowPadding": 1.8, "zindex": 2}}}}
]
}
],
"spacing": 0, "bounds": "flush",
"resolve": {"scale": {"shape": "independent", "strokeDash": "independent"}}
}
],
"spacing": 42,
"resolve": {"scale": {"shape": "independent", "strokeDash": "independent"}},
"config": {
"view": {"stroke": "#000", "strokeWidth": 1.2},
"axis": {"domainColor": "#000", "domainWidth": 1.2, "tickColor": "#000", "labelColor": "#000", "titleColor": "#000", "gridColor": "#222", "gridDash": [1.5, 2.5], "gridWidth": 0.9, "labelFont": "Liberation Sans Narrow, DejaVu Sans Condensed, Liberation Sans, sans-serif", "labelFontWeight": "bold", "labelFontSize": 9, "labelFlush": false, "labelOverlap": false, "labelBound": false, "titleFontWeight": "normal"},
"legend": {"labelLimit": 0}
}
}
